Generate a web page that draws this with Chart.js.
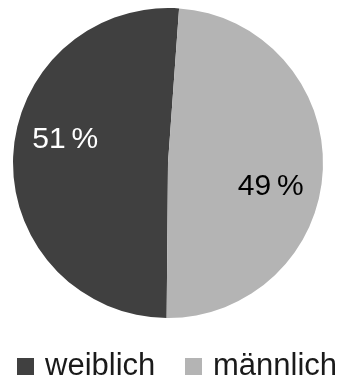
<!DOCTYPE html>
<html>
<head>
<meta charset="utf-8">
<script src="https://cdn.jsdelivr.net/npm/chart.js@4"></script>
<style>
  html, body { margin: 0; padding: 0; background: #fff; }
  #box { width: 344px; height: 379px; }
</style>
</head>
<body>
<div id="box"><canvas id="myChart"></canvas></div>
<script>
var categories = ["weiblich", "männlich"];
var shares = [51, 49];
var sliceLabels = ["51\u2009%", "49\u2009%"];
var sliceColors = ["#404040", "#b4b4b4"];
var labelColors = ["#ffffff", "#000000"];

var FONT = "'Liberation Sans', Arial, sans-serif";

// percent labels inside the slices
var pctLabels = {
  id: "pctLabels",
  afterDatasetsDraw: function (chart) {
    var ctx = chart.ctx;
    var arcs = chart.getDatasetMeta(0).data;
    ctx.save();
    ctx.font = "30px " + FONT;
    ctx.textAlign = "center";
    ctx.textBaseline = "middle";
    for (let i = 0; i < arcs.length; i++) {
      var a = arcs[i];
      var mid = (a.startAngle + a.endAngle) / 2 + 10.6 * Math.PI / 180;
      var r = a.outerRadius * 0.68;
      ctx.fillStyle = labelColors[i];
      ctx.fillText(sliceLabels[i], a.x + Math.cos(mid) * r, a.y + Math.sin(mid) * r);
    }
    ctx.restore();
  }
};

// legend row under the pie (built-in one wraps at this size)
var bottomLegend = {
  id: "bottomLegend",
  afterDraw: function (chart) {
    var ctx = chart.ctx;
    var boxX = [17, 185];
    var y = 375;
    ctx.save();
    ctx.font = "31px " + FONT;
    ctx.textBaseline = "alphabetic";
    ctx.textAlign = "left";
    for (let i = 0; i < categories.length; i++) {
      ctx.fillStyle = sliceColors[i];
      ctx.fillRect(boxX[i], y - 17, 17, 17);
      ctx.fillStyle = "#1a1a1a";
      ctx.fillText(categories[i], boxX[i] + 28, y);
    }
    ctx.restore();
  }
};

new Chart("myChart", {
  type: "pie",
  data: {
    labels: categories,
    datasets: [{
      data: shares,
      backgroundColor: sliceColors,
      borderWidth: 0
    }]
  },
  plugins: [pctLabels, bottomLegend],
  options: {
    responsive: true,
    maintainAspectRatio: false,
    animation: false,
    rotation: 180.5,
    radius: 155,
    layout: { padding: { top: 8, right: 8, left: 0, bottom: 61 } },
    plugins: {
      tooltip: { enabled: false },
      legend: { display: false }
    }
  }
});
</script>
</body>
</html>
